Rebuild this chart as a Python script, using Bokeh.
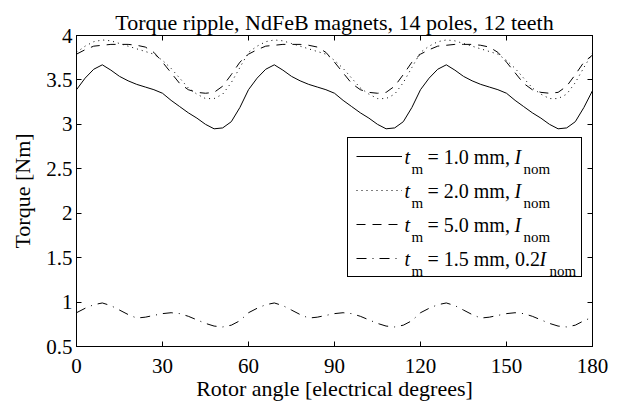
from bokeh.plotting import figure
from bokeh.models import (Range1d, LinearAxis, FixedTicker, Legend, LegendItem,
                          Label, CustomJSTickFormatter)
from bokeh.embed import file_html
from bokeh.resources import INLINE

# ---------------- data ----------------
angle = list(range(0, 181, 3))  # rotor angle, electrical degrees

torque_tm1_nom = [
    3.39, 3.52, 3.62, 3.67, 3.61, 3.54, 3.49, 3.45, 3.42, 3.39, 3.35, 3.27, 3.20, 3.13, 3.07, 3.00, 2.95, 2.96, 3.03, 3.19,
    3.39, 3.52, 3.62, 3.67, 3.61, 3.54, 3.49, 3.45, 3.42, 3.39, 3.35, 3.27, 3.20, 3.13, 3.07, 3.00, 2.95, 2.96, 3.03, 3.19,
    3.39, 3.52, 3.62, 3.67, 3.61, 3.54, 3.49, 3.45, 3.42, 3.39, 3.35, 3.27, 3.20, 3.13, 3.07, 3.00, 2.95, 2.96, 3.03, 3.19,
    3.38]
torque_tm2_nom = [
    3.81, 3.88, 3.93, 3.95, 3.94, 3.91, 3.88, 3.85, 3.82, 3.79, 3.72, 3.63, 3.52, 3.41, 3.34, 3.29, 3.29, 3.34, 3.47, 3.64,
    3.81, 3.88, 3.93, 3.95, 3.94, 3.91, 3.88, 3.85, 3.82, 3.79, 3.72, 3.63, 3.52, 3.41, 3.34, 3.29, 3.29, 3.34, 3.47, 3.64,
    3.81, 3.88, 3.93, 3.95, 3.94, 3.91, 3.88, 3.85, 3.82, 3.79, 3.72, 3.63, 3.52, 3.41, 3.34, 3.29, 3.29, 3.34, 3.47, 3.64,
    3.80]
torque_tm5_nom = [
    3.79, 3.84, 3.88, 3.89, 3.90, 3.90, 3.90, 3.89, 3.87, 3.81, 3.70, 3.58, 3.46, 3.39, 3.36, 3.35, 3.36, 3.43, 3.56, 3.70,
    3.79, 3.84, 3.88, 3.89, 3.90, 3.90, 3.90, 3.89, 3.87, 3.81, 3.70, 3.58, 3.46, 3.39, 3.36, 3.35, 3.36, 3.43, 3.56, 3.70,
    3.79, 3.84, 3.88, 3.89, 3.90, 3.90, 3.90, 3.89, 3.87, 3.81, 3.70, 3.58, 3.46, 3.39, 3.36, 3.35, 3.36, 3.43, 3.56, 3.70,
    3.78]
torque_tm15_02nom = [
    0.88, 0.93, 0.97, 0.99, 0.96, 0.91, 0.86, 0.82, 0.83, 0.85, 0.87, 0.88, 0.87, 0.84, 0.80, 0.76, 0.73, 0.72, 0.74, 0.79,
    0.88, 0.93, 0.97, 0.99, 0.96, 0.91, 0.86, 0.82, 0.83, 0.85, 0.87, 0.88, 0.87, 0.84, 0.80, 0.76, 0.73, 0.72, 0.74, 0.79,
    0.88, 0.93, 0.97, 0.99, 0.96, 0.91, 0.86, 0.82, 0.83, 0.85, 0.87, 0.88, 0.87, 0.84, 0.80, 0.76, 0.73, 0.72, 0.74, 0.79,
    0.83]

x_ticks = [0, 30, 60, 90, 120, 150, 180]
y_ticks = [0.5, 1, 1.5, 2, 2.5, 3, 3.5, 4]

legend_thickness = ["1.0", "2.0", "5.0", "1.5"]
legend_current = ["", "", "", "0.2"]

title_text = "Torque ripple, NdFeB magnets, 14 poles, 12 teeth"
x_label = "Rotor angle [electrical degrees]"
y_label = "Torque [Nm]"

# ---------------- layout / style ----------------
FONT = "Liberation Serif"
W, H = 620, 403
BL, BT = 76, 35
BR, BB = W - 592, H - 347
FRAME_W = W - BL - BR
FRAME_H = H - BT - BB
X0, X1, Y0, Y1 = 0, 180, 0.5, 4


def dx(px):
    return X0 + (px - BL) * (X1 - X0) / FRAME_W


def dy(py):
    return Y1 - (py - BT) * (Y1 - Y0) / FRAME_H


p = figure(width=W, height=H, output_backend="svg", toolbar_location=None,
           x_range=Range1d(X0, X1), y_range=Range1d(Y0, Y1),
           min_border_left=BL, min_border_right=BR,
           min_border_top=BT, min_border_bottom=BB,
           title=title_text)

p.title.align = "center"
p.title.vertical_align = "middle"
p.title.text_font = FONT
p.title.text_font_size = "22px"
p.title.text_font_style = "normal"
p.title.text_color = "black"
p.title.standoff = 0

p.grid.visible = False
p.outline_line_color = "black"
p.outline_line_width = 1
p.background_fill_color = "white"
p.border_fill_color = "white"

fmt = CustomJSTickFormatter(code="return String(tick);")


def style_axis(ax, ticks, show_labels):
    ax.ticker = FixedTicker(ticks=ticks)
    ax.formatter = fmt
    ax.major_tick_in = 5
    ax.major_tick_out = 0
    ax.minor_tick_line_color = None
    ax.axis_line_color = "black"
    ax.major_tick_line_color = "black"
    ax.major_label_text_font = FONT
    ax.major_label_text_color = "black"
    ax.axis_label_text_font = FONT
    ax.axis_label_text_font_style = "normal"
    ax.axis_label_text_color = "black"
    ax.axis_label_text_font_size = "22px"
    if show_labels:
        ax.major_label_text_font_size = "21px"
    else:
        ax.major_label_text_font_size = "0px"
        ax.major_label_text_color = None
        ax.major_label_standoff = 0


style_axis(p.xaxis[0], x_ticks, True)
style_axis(p.yaxis[0], y_ticks, True)
p.xaxis.axis_label = x_label
p.yaxis.axis_label = y_label
p.xaxis.major_label_standoff = 12
p.xaxis.axis_label_standoff = 0
p.yaxis.major_label_standoff = 4
p.yaxis.axis_label_standoff = 8

top_ax = LinearAxis()
style_axis(top_ax, x_ticks, False)
p.add_layout(top_ax, "above")
right_ax = LinearAxis()
style_axis(right_ax, y_ticks, False)
p.add_layout(right_ax, "right")

r1 = p.line(angle, torque_tm1_nom, line_color="black", line_width=1)
r2 = p.line(angle, torque_tm2_nom, line_color="black", line_width=1, line_dash="1 4")
r3 = p.line(angle, torque_tm5_nom, line_color="black", line_width=1, line_dash="9 7")
r4 = p.line(angle, torque_tm15_02nom, line_color="black", line_width=1, line_dash="10 6 1 6")

# legend: box + line samples from Bokeh, texts with subscripts as labels
legend = Legend(items=[LegendItem(label=" ", renderers=[r]) for r in (r1, r2, r3, r4)],
                location=(271, 69), orientation="vertical",
                padding=8, spacing=14, glyph_width=46, glyph_height=20,
                label_height=20, label_width=165, label_standoff=6,
                label_text_font_size="8px", label_text_color=None,
                border_line_color="black", border_line_width=1, border_line_alpha=1.0,
                background_fill_color="white", background_fill_alpha=0.0)
p.add_layout(legend, "center")

row_y = [157, 191, 225, 259]
for i, (thick, cur) in enumerate(zip(legend_thickness, legend_current)):
    yc = row_y[i]
    ysub = yc + 12
    main = "= " + thick + " mm, " + cur
    i_x = 514 if cur == "" else 539
    nom_x = 523 if cur == "" else 549
    pieces = [
        ("t", 404, yc, "20px", "italic"),
        ("m", 411, ysub, "15px", "normal"),
        (main.rstrip(), 427, yc, "20px", "normal"),
        ("I", i_x, yc, "20px", "italic"),
        ("nom", nom_x, ysub, "15px", "normal"),
    ]
    for txt, px, py, fs, st in pieces:
        p.add_layout(Label(x=dx(px), y=dy(py), x_units="data", y_units="data",
                           text=txt, text_font=FONT,
                           text_font_size=fs, text_font_style=st,
                           text_color="black", text_align="left",
                           text_baseline="middle", level="overlay"))

open("out.html", "w").write(file_html(p, INLINE))
